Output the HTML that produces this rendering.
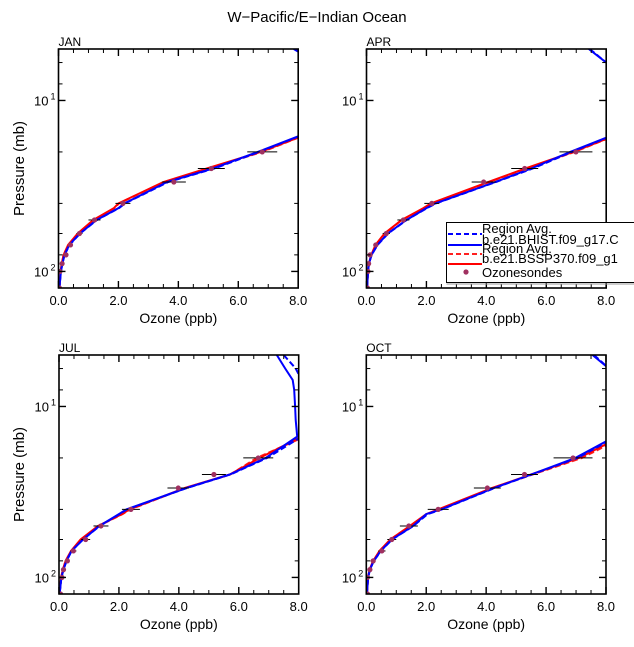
<!DOCTYPE html>
<html><head><meta charset="utf-8">
<style>
html,body{margin:0;padding:0;background:#fff;}
svg{display:block;font-family:"Liberation Sans",sans-serif;}
</style></head>
<body>
<svg id="chart" width="634" height="647" viewBox="0 0 634 647" xmlns="http://www.w3.org/2000/svg">
<text x="317" y="22" text-anchor="middle" font-size="15" fill="#000">W−Pacific/E−Indian Ocean</text>
</svg>
<script>
const levels=[5,6,7,8,10,12,15,20,25,30,40,42.6,50,60,70,80,90,100,125];
const obsLevels=[20,25,30,40,50,60,70,80,90,100,125];
const xTicks=[0,2,4,6,8];
const xTickLabels=["0.0","2.0","4.0","6.0","8.0"];
const xMinor=[0.5,1,1.5,2.5,3,3.5,4.5,5,5.5,6.5,7,7.5];
const yTicks=[10,100];
const yTickLabels=["1","2"];
const yMinor=[6,8,20,40,60,80];
const months=["JAN","APR","JUL","OCT"];

const janBlue=[7.85,8.6,9.2,9.5,9.8,9.5,8.5,6.65,5.15,3.62,2.2,2.0,1.27,0.71,0.36,0.2,0.13,0.08,0.03];
const janBlueDash=[7.9,8.6,9.2,9.5,9.8,9.5,8.5,6.7,5.2,3.66,2.22,2.02,1.28,0.72,0.37,0.2,0.13,0.08,0.03];
const janRed=[8.4,9,9.5,9.8,10,9.7,8.6,6.75,4.95,3.5,2.0,1.85,1.16,0.64,0.32,0.17,0.11,0.07,0.03];
const janRedDash=[8.4,9,9.5,9.8,10,9.7,8.6,6.8,5.0,3.52,2.02,1.87,1.17,0.65,0.33,0.17,0.11,0.07,0.03];
const janObs=[6.8,5.1,3.85,2.15,1.2,0.7,0.4,0.25,0.12,0.05,0.03];
const janErr=[0.5,0.45,0.4,0.25,0.2,0.1,0.08,0.05,0.03,0.02,0.02];

const aprBlue=[7.42,8.0,8.6,9.0,9.4,9.3,8.6,6.8,5.5,4.3,2.3,2.0,1.33,0.71,0.36,0.17,0.08,0.05,0.02];
const aprBlueDash=[7.45,8.0,8.6,9.0,9.4,9.3,8.6,6.85,5.55,4.32,2.32,2.02,1.34,0.72,0.37,0.17,0.08,0.05,0.02];
const aprRed=[8.3,8.8,9.2,9.5,9.8,9.6,8.7,6.9,5.3,4.07,2.15,1.9,1.17,0.6,0.3,0.16,0.08,0.05,0.02];
const aprRedDash=[8.3,8.8,9.2,9.5,9.8,9.6,8.7,6.95,5.33,4.1,2.17,1.92,1.18,0.61,0.31,0.16,0.08,0.05,0.02];
const aprObs=[6.99,5.28,3.91,2.18,1.23,0.66,0.31,0.12,0.07,0.05,0.03];
const aprErr=[0.55,0.45,0.4,0.25,0.2,0.12,0.08,0.05,0.03,0.02,0.02];

const julBlue=[7.27,7.55,7.8,7.85,7.88,7.9,7.95,6.9,5.7,4.25,2.25,2.0,1.35,0.8,0.42,0.25,0.15,0.08,0.02];
const julBlueDash=[7.5,7.9,8.1,8.2,8.3,8.3,8.1,6.95,5.72,4.27,2.27,2.02,1.36,0.8,0.42,0.25,0.15,0.08,0.02];
const julRed=[9,9.3,9.5,9.6,9.6,9.4,8.1,6.7,5.7,4.2,2.35,2.1,1.3,0.72,0.4,0.22,0.13,0.07,0.02];
const julRedDash=[9,9.3,9.5,9.6,9.6,9.4,8.2,6.6,5.72,4.22,2.38,2.12,1.32,0.73,0.41,0.22,0.13,0.07,0.02];
const julObs=[6.65,5.17,3.98,2.4,1.4,0.89,0.48,0.28,0.15,0.1,0.05];
const julErr=[0.5,0.4,0.36,0.3,0.25,0.15,0.1,0.06,0.04,0.03,0.02];

const octBlue=[7.55,8.1,8.7,9.1,9.5,9.4,8.3,6.98,5.5,4.26,2.5,2.0,1.56,0.85,0.48,0.25,0.12,0.06,0.02];
const octBlueDash=[7.6,8.1,8.7,9.1,9.5,9.4,8.35,7.05,5.52,4.28,2.52,2.05,1.57,0.86,0.49,0.25,0.12,0.06,0.02];
const octRed=[8.5,9,9.3,9.5,9.7,9.5,8.5,7.1,5.5,4.2,2.4,2.0,1.45,0.8,0.44,0.23,0.11,0.06,0.02];
const octRedDash=[8.5,9,9.3,9.5,9.7,9.5,8.6,7.2,5.55,4.22,2.42,2.02,1.46,0.8,0.45,0.23,0.11,0.06,0.02];
const octObs=[6.9,5.28,4.04,2.4,1.42,0.85,0.52,0.23,0.12,0.04,0.04];
const octErr=[0.65,0.45,0.45,0.35,0.3,0.15,0.12,0.07,0.04,0.03,0.02];

const panelData=[
 [janBlue,janBlueDash,janRed,janRedDash,janObs,janErr],
 [aprBlue,aprBlueDash,aprRed,aprRedDash,aprObs,aprErr],
 [julBlue,julBlueDash,julRed,julRedDash,julObs,julErr],
 [octBlue,octBlueDash,octRed,octRedDash,octObs,octErr]];
const panelPos=[[58.5,49],[366.5,49],[59,355],[366.3,355]];
const PW=239.7,PH=239,PTOP=5,PBOT=125;

const NS="http://www.w3.org/2000/svg";
const svg=document.getElementById('chart');
function mk(tag,attrs,parent){const e=document.createElementNS(NS,tag);for(const k in attrs)e.setAttribute(k,attrs[k]);(parent||svg).appendChild(e);return e;}

panelData.forEach((d,i)=>{
 const [x0,y0]=panelPos[i];
 const xs=v=>x0+v/8*PW;
 const ys=p=>y0+(Math.log10(p)-Math.log10(PTOP))/(Math.log10(PBOT)-Math.log10(PTOP))*PH;
 const g=mk('g',{});
 
 
 const cid='clip'+i;
 const cp=mk('clipPath',{id:cid},g);
 mk('rect',{x:x0,y:y0,width:PW,height:PH},cp);
 const lab=mk('text',{x:x0,y:y0-3,'font-size':12},g);lab.textContent=months[i];
 
 
 const series=[[d[0],'#0000ff',''],[d[1],'#0000ff','6,3'],[d[2],'#ff0000',''],[d[3],'#ff2020','6,3']];
 const order=[3,2,1,0];
 order.forEach(si=>{
  const s=series[si];
  const pts=s[0].map((v,k)=>xs(v).toFixed(1)+','+ys(levels[k]).toFixed(1)).join(' ');
  const pl=mk('polyline',{points:pts,fill:'none',stroke:s[1],'stroke-width':2,'stroke-dasharray':s[2],'clip-path':'url(#'+cid+')'},g);
  
  
 });
 d[4].forEach((v,k)=>{
  const y=ys(obsLevels[k]);
  const eb=mk('line',{x1:xs(v-d[5][k]),x2:xs(v+d[5][k]),y1:y,y2:y,stroke:'#000','stroke-width':1,'clip-path':'url(#'+cid+')'},g);
  
  
  const c=mk('circle',{cx:xs(v),cy:y,r:2.6,fill:'#a03060','clip-path':'url(#'+cid+')'},g);
  
  
 });
 const fr=mk('rect',{x:x0,y:y0,width:PW,height:PH,fill:'none',stroke:'#000','stroke-width':1.6},g);
 
 
 xTicks.forEach((v,k)=>{
  mk('line',{x1:xs(v),x2:xs(v),y1:y0+PH,y2:y0+PH-7,stroke:'#000','stroke-width':1.4},g);
  mk('line',{x1:xs(v),x2:xs(v),y1:y0,y2:y0+7,stroke:'#000','stroke-width':1.4},g);
  const t=mk('text',{x:xs(v),y:y0+PH+17,'text-anchor':'middle','font-size':13},g);t.textContent=xTickLabels[k];
  
  
 });
 xMinor.forEach(v=>{
  mk('line',{x1:xs(v),x2:xs(v),y1:y0+PH,y2:y0+PH-4,stroke:'#000','stroke-width':1},g);
  mk('line',{x1:xs(v),x2:xs(v),y1:y0,y2:y0+4,stroke:'#000','stroke-width':1},g);
 });
 yTicks.forEach((p,k)=>{
  mk('line',{x1:x0,x2:x0+7,y1:ys(p),y2:ys(p),stroke:'#000','stroke-width':1.4},g);
  mk('line',{x1:x0+PW,x2:x0+PW-7,y1:ys(p),y2:ys(p),stroke:'#000','stroke-width':1.4},g);
  const t=mk('text',{x:x0-10,y:ys(p)+5,'text-anchor':'end','font-size':13},g);t.textContent='10';
  
  
  const s=mk('text',{x:x0-3,y:ys(p)-1,'text-anchor':'end','font-size':9},g);s.textContent=yTickLabels[k];
 });
 yMinor.forEach(p=>{
  mk('line',{x1:x0,x2:x0+4,y1:ys(p),y2:ys(p),stroke:'#000','stroke-width':1},g);
  mk('line',{x1:x0+PW,x2:x0+PW-4,y1:ys(p),y2:ys(p),stroke:'#000','stroke-width':1},g);
 });
 const xl=mk('text',{x:x0+PW/2,y:y0+PH+35,'text-anchor':'middle','font-size':14},g);xl.textContent='Ozone (ppb)';
 
 
 if(i%2===0){
  const yl=mk('text',{x:0,y:0,'text-anchor':'middle','font-size':15,transform:'translate(24,'+(y0+PH/2)+') rotate(-90)'},g);yl.textContent='Pressure (mb)';
  
  
 }
});

// legend
const lg=mk('g',{});


mk('rect',{x:446.5,y:222.5,width:200,height:60,fill:'#fff',stroke:'#000','stroke-width':1},lg);
mk('line',{x1:446.5,x2:634,y1:284,y2:284,stroke:'#999','stroke-width':1},lg);
const legItems=[['#0000ff','5,3','Region Avg.',232],['#0000ff','','b.e21.BHIST.f09_g17.C',243],['#ff2020','5,3','Region Avg.',252],['#ff0000','','b.e21.BSSP370.f09_g1',262]];
legItems.forEach(it=>{
 const l=mk('line',{x1:448,x2:482,y1:it[3]+2,y2:it[3]+2,stroke:it[0],'stroke-width':2,'stroke-dasharray':it[1]},lg);
 
 
 const t=mk('text',{x:482,y:it[3]+1,'font-size':13},lg);t.textContent=it[2];
 
 
});
const ld=mk('circle',{cx:466,cy:272,r:2.6,fill:'#a03060'},lg);


const lt=mk('text',{x:482,y:277,'font-size':13},lg);lt.textContent='Ozonesondes';


</script>
</body></html>
